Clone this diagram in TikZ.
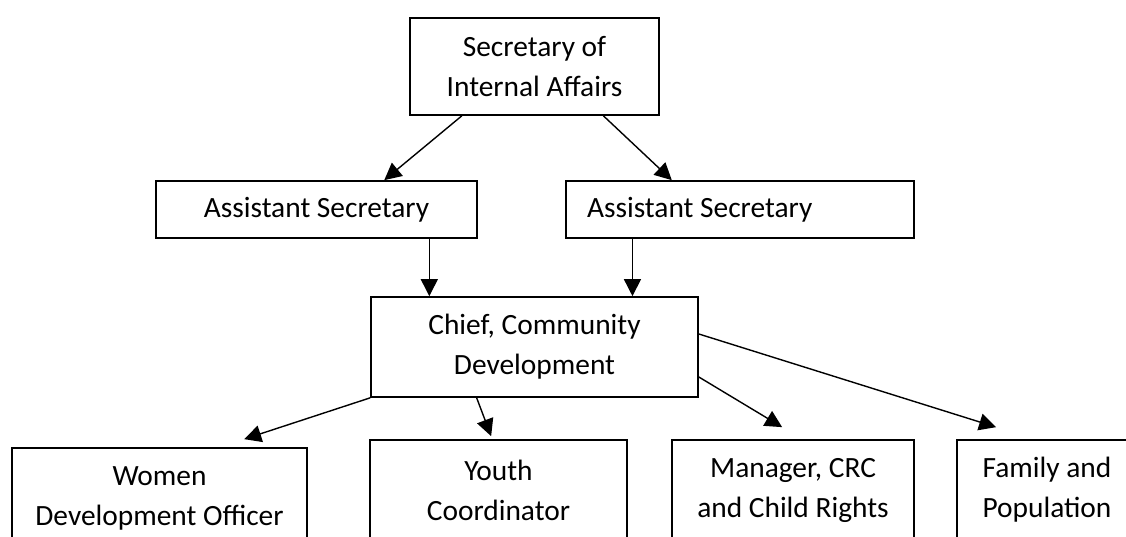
\documentclass[tikz,border=0pt]{standalone}
\usepackage{fontspec}
\setmainfont{Carlito}
\usetikzlibrary{arrows.meta,calc,positioning}

\begin{document}
\begin{tikzpicture}[x=1pt, y=1pt, line width=1.4pt,
  box/.style={draw, line width=1.7pt, align=center, inner sep=0pt,
    font=\fontsize{29.4}{40}\selectfont},
  link/.style={-{Triangle[length=17pt,width=17pt]}}]
\useasboundingbox (0,0) rectangle (1126,-537);
\clip (0,0) rectangle (1126,-537);

% top of the chart
\node[box, minimum width=249, minimum height=97] (sec) at (534.5,-66.5) {Secretary of\\Internal Affairs};
\node[box, minimum width=321, minimum height=57] (asstL) at (316.5,-209.5) {Assistant Secretary};
\node[box, minimum height=57, text width=306, align=flush left, inner xsep=21] (asstR) at (740,-209.5) {Assistant Secretary};
\node[box, minimum width=327, minimum height=100] (chief) at (534.5,-347) {Chief, Community\\Development};

% bottom row, cut off by the page edge
\node[box, minimum width=295, minimum height=100] (women) at (159.5,-498) {Women\\Development Officer};
\node[box, minimum width=257, minimum height=100] (youth) at (498.5,-490) {Youth\\Coordinator};
\node[box, minimum width=242, minimum height=100] (crc) at (793,-490) {Manager, CRC\\and Child Rights};
\node[box, minimum width=180, minimum height=100] (family) at (1047,-490) {Family and\\Population};

\draw[link] ($(sec.south west)!0.21!(sec.south east)$) -- ($(asstL.north west)!0.71!(asstL.north east)$);
\draw[link] ($(sec.south west)!0.775!(sec.south east)$) -- ($(asstR.north west)!0.305!(asstR.north east)$);

\coordinate (inL) at ($(chief.north west)!0.18!(chief.north east)$);
\coordinate (inR) at ($(chief.north west)!0.798!(chief.north east)$);
\draw[link] (inL |- asstL.south) -- (inL);
\draw[link] (inR |- asstR.south) -- (inR);

\draw[link] (chief.south west) -- ($(women.north west)+(233,8)$);
\draw[link] ($(chief.south west)!0.324!(chief.south east)$) -- ($(youth.north west)+(122,3)$);
\draw[link] ($(chief.east)+(0,-30)$) -- ($(crc.north west)+(111,12)$);
\draw[link] ($(chief.east)+(0,13)$) -- ($(family.north west)+(40,12)$);
\end{tikzpicture}
\end{document}
